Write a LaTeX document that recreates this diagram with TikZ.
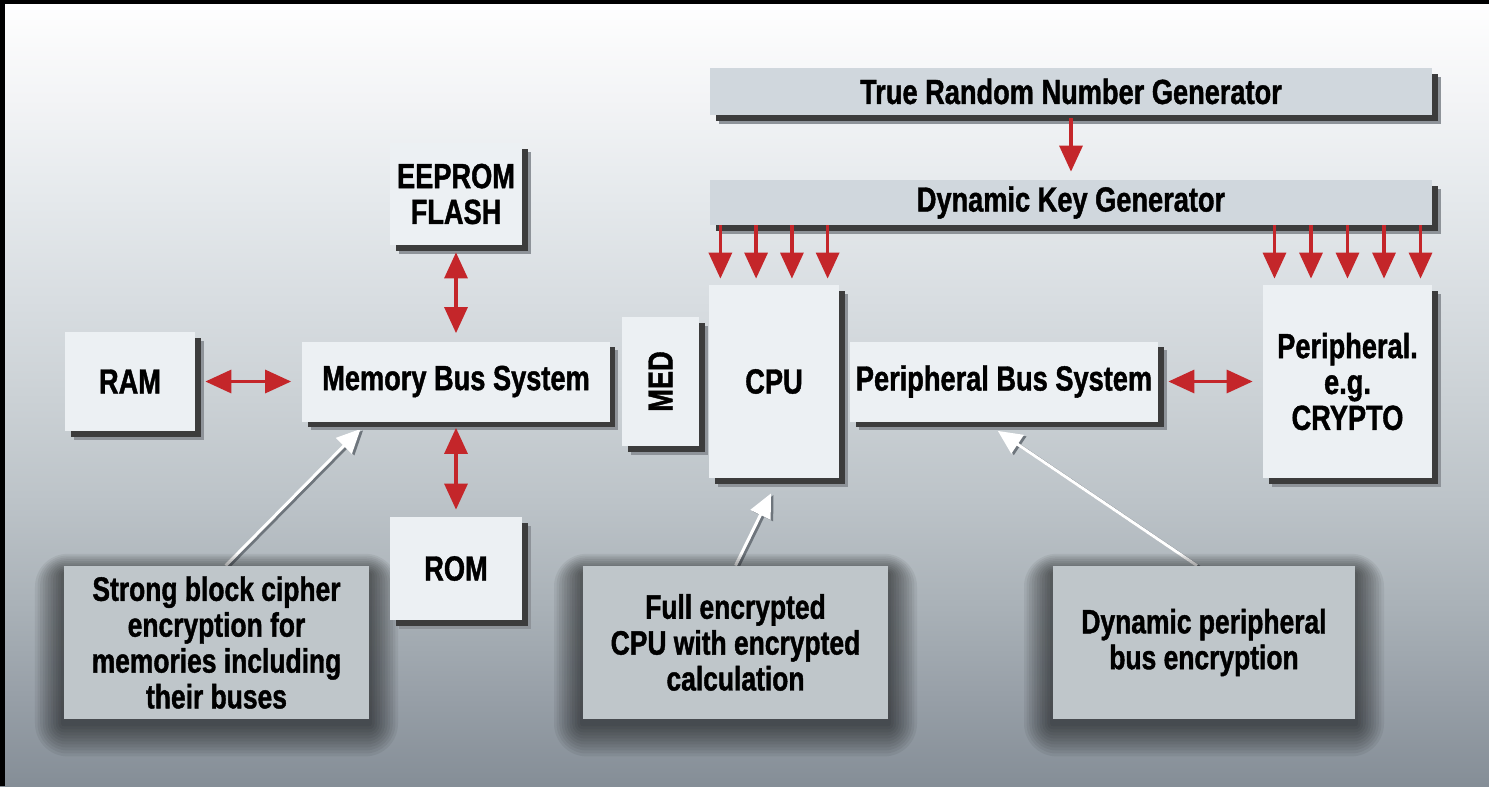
\documentclass[tikz,border=0pt]{standalone}
\usepackage{fontspec}
\setmainfont[FakeStretch=0.78, BoldFeatures={FakeBold=1.2}]{Liberation Sans}
\usetikzlibrary{arrows.meta,shadows,calc}
\definecolor{bg0}{HTML}{848D96}
\definecolor{bg1}{HTML}{98A0A8}
\definecolor{bg2}{HTML}{AAB2B8}
\definecolor{bg3}{HTML}{BCC3C8}
\definecolor{bg4}{HTML}{CBD1D5}
\definecolor{bg5}{HTML}{D8DDE1}
\definecolor{bg6}{HTML}{E5E9EC}
\definecolor{bg7}{HTML}{F3F4F6}
\definecolor{boxfill}{HTML}{ECF0F3}
\definecolor{barfill}{HTML}{D0D7DD}
\definecolor{notefill}{HTML}{BFC6CA}
\definecolor{shadowdark}{HTML}{3C3C3C}
\definecolor{shadowlight}{HTML}{8E9399}
\definecolor{arrowred}{HTML}{C4262A}
\definecolor{wshadecol}{HTML}{6E757C}
\pgfdeclareverticalshading{bgshade}{100bp}{color(0bp)=(bg0); color(25bp)=(bg0); color(31.1bp)=(bg1); color(36.8bp)=(bg2); color(43.2bp)=(bg3); color(49.6bp)=(bg4); color(55.9bp)=(bg5); color(62.3bp)=(bg6); color(68.6bp)=(bg7); color(75bp)=(white); color(100bp)=(white)}
\pgfdeclarelayer{bg}
\pgfsetlayers{bg,main}
\newcommand\mainfnt{\fontsize{17.5}{18}\selectfont\bfseries}
\newcommand\notefnt{\fontsize{17}{18}\selectfont\bfseries}
\begin{document}
\begin{tikzpicture}[x=0.5bp,y=-0.5bp,
  mainbox/.style={fill=boxfill, draw=none, align=center, font=\mainfnt, inner sep=0pt,
    general shadow={fill=shadowlight, shadow xshift=4.5pt, shadow yshift=-4.5pt},
    general shadow={fill=shadowdark, shadow xshift=3pt, shadow yshift=-3pt}},
  barbox/.style={mainbox, fill=barfill},
  notebox/.style={fill=notefill, draw=none, align=center, font=\notefnt, inner sep=0pt},
  softshadow/.style={fill=black, opacity=0.06, rounded corners=#1},
  ra/.style={draw=arrowred, line width=1.6pt, -{Triangle[width=11.5pt,length=13pt]}},
  rda/.style={draw=arrowred, line width=1.6pt, {Triangle[width=11.5pt,length=13pt]}-{Triangle[width=11.5pt,length=13pt]}},
  warrow/.style={draw=white, line width=1.5pt, -{Triangle[width=11pt,length=12pt]}},
  wshade/.style={draw=wshadecol, line width=1.5pt, -{Triangle[width=11pt,length=12pt]}}
]
\useasboundingbox (0,0) rectangle (1489,786);
\begin{pgfonlayer}{bg}
  \fill[bg0] (-40,-40) rectangle (1560,860);
  \shade[shading=bgshade] (-4,-4) rectangle (1493,790);
\end{pgfonlayer}
\fill[black] (0,0) rectangle (5,786);
\fill[black] (0,0) rectangle (1489,4);

% main boxes
\node[barbox, minimum width=361bp, minimum height=23.5bp] (trng) at (1071,91.5) {True Random Number Generator};
\node[barbox, minimum width=361bp, minimum height=22.5bp] (dkg) at (1071,202.5) {Dynamic Key Generator};
\node[mainbox, minimum width=66bp, minimum height=51bp] (eeprom) at (456,194) {EEPROM\\FLASH};
\node[mainbox, minimum width=65bp, minimum height=49.5bp] (ram) at (130,381.5) {RAM};
\node[mainbox, minimum width=153.5bp, minimum height=40bp] (mbs) at (456,381.5) {Memory Bus System};
\node[mainbox, minimum width=38.5bp, minimum height=64.5bp] (med) at (660.5,381.5) {};
\node[font=\mainfnt, rotate=90] (medtxt) at (med.center) {MED};
\node[mainbox, minimum width=65bp, minimum height=96.5bp] (cpu) at (774,381.5) {CPU};
\node[mainbox, minimum width=154bp, minimum height=40bp] (pbs) at (1004,381.5) {Peripheral Bus System};
\node[mainbox, minimum width=84.5bp, minimum height=96.5bp] (crypto) at (1347.5,381.5) {Peripheral.\\e.g.\\CRYPTO};
\node[mainbox, minimum width=66bp, minimum height=51.5bp] (rom) at (456,568.5) {ROM};

% annotation boxes
\node[notebox, minimum width=152.5bp, minimum height=76.5bp] (a1) at (216.5,642.5) {Strong block cipher\\encryption for\\memories including\\their buses};
\node[notebox, minimum width=152.5bp, minimum height=76.5bp] (a2) at (735.5,642.5) {Full encrypted\\CPU with encrypted\\calculation};
\node[notebox, minimum width=151bp, minimum height=76.5bp] (a3) at (1204,642.5) {Dynamic peripheral\\bus encryption};

% red arrows
\draw[ra, shorten <=1.5pt, shorten >=4pt] (trng.south) -- (dkg.north);
\foreach \f [count=\i] in {0.09,0.363,0.637,0.91}{
  \coordinate (c\i) at ($(cpu.north west)!\f!(cpu.north east)$);
  \draw[ra, shorten >=3pt] (c\i |- dkg.south) -- (c\i);
}
\foreach \f [count=\i] in {0.07,0.285,0.5,0.715,0.93}{
  \coordinate (p\i) at ($(crypto.north west)!\f!(crypto.north east)$);
  \draw[ra, shorten >=3pt] (p\i |- dkg.south) -- (p\i);
}
\draw[rda, shorten <=5pt, shorten >=5.5pt] (ram.east) -- (mbs.west);
\draw[rda, shorten <=3.5pt, shorten >=4pt] (eeprom.south) -- (mbs.north);
\draw[rda, shorten <=3pt, shorten >=3.5pt] (mbs.south) -- (rom.north);
\draw[rda, shorten <=5pt, shorten >=5pt] (pbs.east) -- (crypto.west);

% white annotation arrows and soft shadows (behind the boxes)
\coordinate (t1) at ($(a1.north west)!0.53!(a1.north east)$);
\coordinate (h1) at ($(mbs.south west)!0.19!(mbs.south east)+(0,7)$);
\coordinate (t2) at (a2.north);
\coordinate (h2) at ($(cpu.south)+(-3,15)$);
\coordinate (t3) at ($(a3.north)+(-7,0)$);
\coordinate (h3) at ($(pbs.south west)!0.48!(pbs.south east)+(0,9)$);
\begin{pgfonlayer}{bg}
  \foreach \t/\h in {t1/h1,t2/h2,t3/h3}{
    \draw[wshade] ($(\t)+(2.5,1.5)$) -- ($(\h)+(2.5,1.5)$);
    \draw[warrow] (\t) -- (\h);
  }
  \foreach \n in {a1,a2,a3}{
    \foreach \k in {1,...,11}{
      \fill[softshadow=1.5*\k pt] ($(\n.north west)+(-2.6*\k,-1.8*\k+8)$) rectangle ($(\n.south east)+(2.6*\k,3*\k+4)$);
    }
  }
\end{pgfonlayer}
\end{tikzpicture}
\end{document}
